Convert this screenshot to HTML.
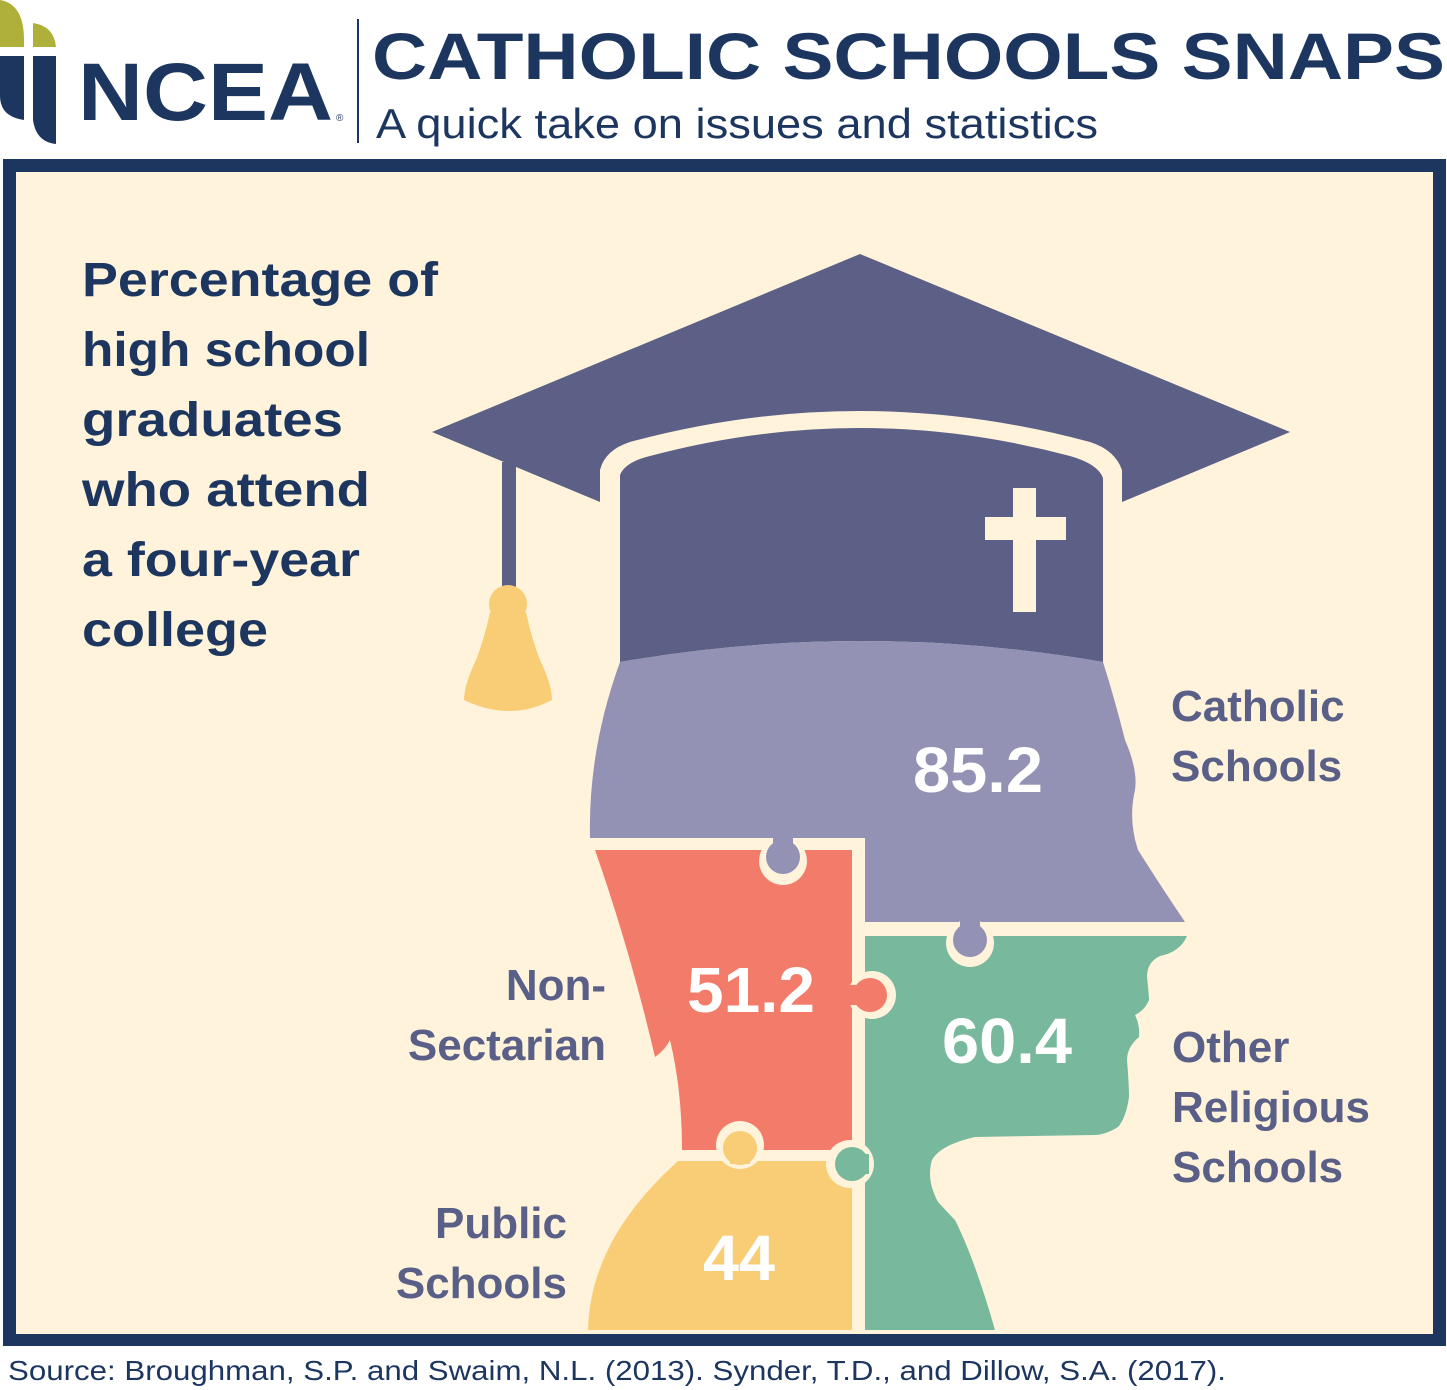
<!DOCTYPE html>
<html><head><meta charset="utf-8"><style>
html,body{margin:0;padding:0;background:#fff;}
svg{display:block}
</style></head><body>
<svg width="1447" height="1390" viewBox="0 0 1447 1390" xmlns="http://www.w3.org/2000/svg">
<rect width="1447" height="1390" fill="#fff"/>
<!-- logo -->
<path d="M0,0 Q24,4 24,40 L24,47 L0,47 Z" fill="#afb03a"/>
<path d="M33,23 Q54,26 56,47 L33,47 Z" fill="#afb03a"/>
<path d="M0,56 L24,56 L24,120 Q10,118 4,110 Q0,104 0,96 Z" fill="#1c365f"/>
<path d="M33,56 L56,56 L56,144 Q36,142 33,120 Z" fill="#1c365f"/>
<text x="78" y="120" font-family="Liberation Sans, sans-serif" font-weight="bold" font-size="82" fill="#1c365f" textLength="255" lengthAdjust="spacingAndGlyphs">NCEA</text>
<text x="336" y="121" font-family="Liberation Sans, sans-serif" font-size="10" fill="#1c365f">®</text>
<rect x="357" y="19" width="2" height="124" fill="#1c365f"/>
<text x="372" y="79" font-family="Liberation Sans, sans-serif" font-weight="bold" font-size="66" fill="#1c365f" textLength="1073" lengthAdjust="spacingAndGlyphs">CATHOLIC SCHOOLS SNAPS</text>
<text x="376" y="138" font-family="Liberation Sans, sans-serif" font-size="42" fill="#1c365f" textLength="722" lengthAdjust="spacingAndGlyphs">A quick take on issues and statistics</text>
<!-- frame -->
<rect x="3" y="159" width="1443" height="1187" fill="#1c365f"/>
<rect x="16" y="172" width="1417" height="1162" fill="#fff3dc"/>
<!-- title -->
<g font-family="Liberation Sans, sans-serif" font-weight="bold" font-size="48" fill="#1c365f" lengthAdjust="spacingAndGlyphs">
<text x="82" y="296" textLength="356" lengthAdjust="spacingAndGlyphs">Percentage of</text>
<text x="82" y="366" textLength="288" lengthAdjust="spacingAndGlyphs">high school</text>
<text x="82" y="436" textLength="261" lengthAdjust="spacingAndGlyphs">graduates</text>
<text x="82" y="506" textLength="288" lengthAdjust="spacingAndGlyphs">who attend</text>
<text x="82" y="576" textLength="278" lengthAdjust="spacingAndGlyphs">a four-year</text>
<text x="82" y="646" textLength="186" lengthAdjust="spacingAndGlyphs">college</text>
</g>
<!-- cap board -->
<path d="M432,432 L860,254 L1290,432 L1122,502 L1122,470 Q1115,450 1090,442 Q860,380 630,442 Q605,450 600,470 L600,502 Z" fill="#5d6086"/>
<!-- tassel -->
<rect x="502" y="462" width="14" height="130" fill="#5d6086"/>
<circle cx="508" cy="604" r="19" fill="#f9cd76"/>
<path d="M490,612 L526,612 Q532,640 540,660 Q552,685 552,700 Q510,722 464,700 Q464,685 476,660 Q484,640 490,612 Z" fill="#f9cd76"/>
<!-- cap body -->
<path d="M620,662 L620,475 Q625,462 650,456 Q860,400 1070,456 Q1098,464 1103,478 L1103,662 Q860,620 620,662 Z" fill="#5d6086"/>
<rect x="1013" y="488" width="23" height="124" fill="#fff3dc"/>
<rect x="985" y="517" width="81" height="23" fill="#fff3dc"/>
<!-- head purple -->
<path d="M620,662 Q860,620 1103,662 Q1115,700 1125,740 Q1138,770 1135,790 Q1128,820 1138,850 Q1160,885 1185,922 L865,922 L865,838 L590,838 Q588,750 620,662 Z" fill="#9391b4"/>
<!-- orange -->
<path d="M595,850 L852,850 L852,1150 L682,1150 Q682,1090 670,1040 Q665,1050 655,1057 Q630,950 595,850 Z" fill="#f27b69"/>
<!-- yellow -->
<path d="M678,1161 L852,1161 L852,1330 L588,1330 Q590,1240 678,1161 Z" fill="#f9cd76"/>
<!-- green -->
<path d="M865,936 L1187,936 Q1180,952 1160,956 Q1147,962 1147,977 Q1149,995 1149,1000 Q1145,1010 1135,1015 Q1140,1025 1139,1037 Q1127,1047 1127,1060 Q1129,1085 1129,1097 Q1126,1118 1118,1127 Q1105,1135 1094,1135 L975,1137 Q940,1145 932,1160 Q926,1180 938,1202 Q950,1215 955,1220 Q975,1260 995,1330 L865,1330 Z" fill="#78b89c"/>
<!-- cream dividers -->
<rect x="852" y="838" width="13" height="496" fill="#fff3dc"/>
<rect x="588" y="838" width="277" height="12" fill="#fff3dc"/>
<rect x="852" y="922" width="340" height="14" fill="#fff3dc"/>
<rect x="600" y="1150" width="252" height="11" fill="#fff3dc"/>
<!-- knobs -->
<circle cx="783" cy="861" r="24" fill="#fff3dc"/><circle cx="783" cy="857" r="17" fill="#9391b4"/>
<rect x="773" y="836" width="20" height="16" fill="#9391b4"/>
<circle cx="970" cy="943" r="24" fill="#fff3dc"/><circle cx="970" cy="940" r="17" fill="#9391b4"/>
<rect x="960" y="918" width="20" height="18" fill="#9391b4"/>
<circle cx="872" cy="995" r="24" fill="#fff3dc"/><circle cx="870" cy="995" r="17" fill="#f27b69"/>
<rect x="848" y="985" width="14" height="20" fill="#f27b69"/>
<circle cx="740" cy="1145" r="24" fill="#fff3dc"/><circle cx="740" cy="1148" r="17" fill="#f9cd76"/>
<rect x="730" y="1150" width="20" height="14" fill="#f9cd76"/>
<circle cx="850" cy="1164" r="24" fill="#fff3dc"/><circle cx="852" cy="1164" r="17" fill="#78b89c"/>
<rect x="855" y="1154" width="14" height="20" fill="#78b89c"/>
<!-- numbers -->
<g font-family="Liberation Sans, sans-serif" font-weight="bold" font-size="64" fill="#fff">
<text x="913" y="792" textLength="130" lengthAdjust="spacingAndGlyphs">85.2</text>
<text x="687" y="1012" textLength="128" lengthAdjust="spacingAndGlyphs">51.2</text>
<text x="942" y="1063" textLength="130" lengthAdjust="spacingAndGlyphs">60.4</text>
<text x="703" y="1280" textLength="72" lengthAdjust="spacingAndGlyphs">44</text>
</g>
<!-- labels -->
<g font-family="Liberation Sans, sans-serif" font-weight="bold" font-size="44" fill="#5a5f87">
<text x="1171" y="721">Catholic</text>
<text x="1171" y="781">Schools</text>
<text x="606" y="1000" text-anchor="end">Non-</text>
<text x="606" y="1060" text-anchor="end">Sectarian</text>
<text x="1172" y="1062">Other</text>
<text x="1172" y="1122">Religious</text>
<text x="1172" y="1182">Schools</text>
<text x="567" y="1238" text-anchor="end">Public</text>
<text x="567" y="1298" text-anchor="end">Schools</text>
</g>
<text x="8" y="1380" font-family="Liberation Sans, sans-serif" font-size="28" fill="#1c365f" textLength="1218" lengthAdjust="spacingAndGlyphs">Source: Broughman, S.P. and Swaim, N.L. (2013). Synder, T.D., and Dillow, S.A. (2017).</text>
</svg>
</body></html>
